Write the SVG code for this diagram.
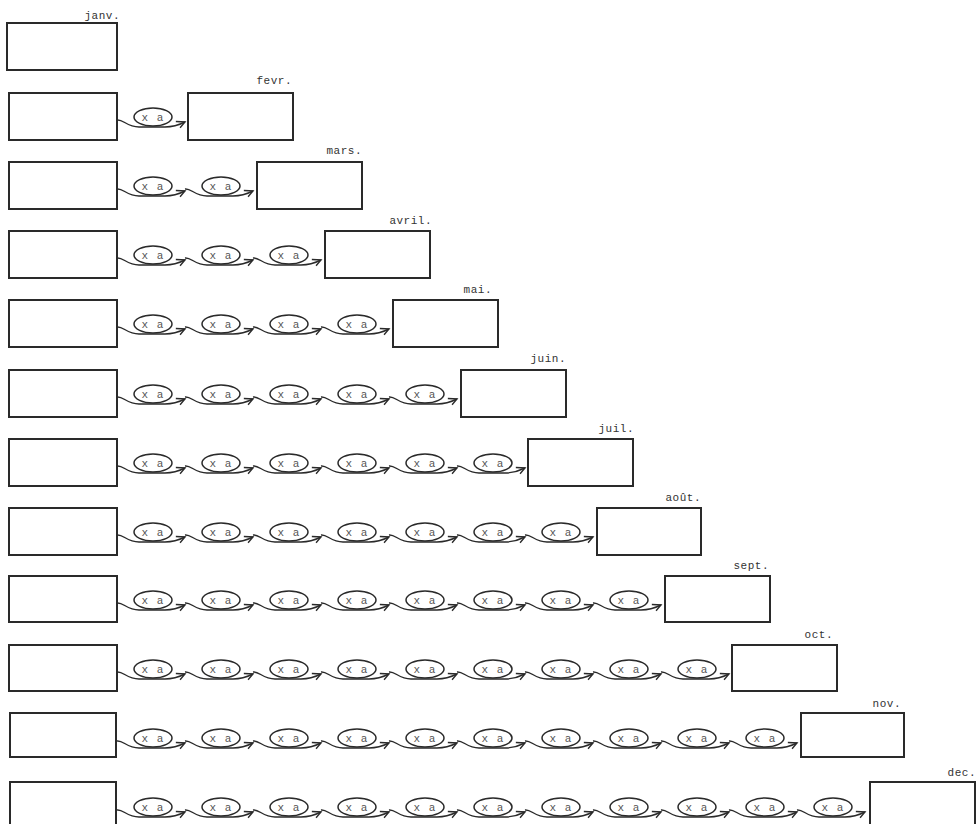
<svg xmlns="http://www.w3.org/2000/svg" width="976" height="824" viewBox="0 0 976 824">
<defs>
<marker id="ah" markerWidth="12" markerHeight="12" refX="0" refY="0" viewBox="-10 -6 12 12" orient="auto" markerUnits="userSpaceOnUse">
<path d="M-8,-4.5 L0,0 L-7,3" fill="none" stroke="#2a2a2a" stroke-width="1.4"/>
</marker>
</defs>
<style>
.box{fill:#fff;stroke:#2a2a2a;stroke-width:2}
.lbl{font-family:"Liberation Mono","DejaVu Sans Mono",monospace;font-size:11px;fill:#333;text-anchor:end;letter-spacing:0.5px}
.op ellipse{fill:#fff;stroke:#2a2a2a;stroke-width:1.5}
.op text{font-family:"Liberation Mono","DejaVu Sans Mono",monospace;font-size:11px;fill:#555;text-anchor:middle;letter-spacing:1px}
.cn path{fill:none;stroke:#2a2a2a;stroke-width:1.4;marker-end:url(#ah)}
</style>
<rect width="976" height="824" fill="#fff"/>

<g id="connectors" class="cn">
<path d="M117,120 c6,-1 10,7 22,7 h26 c8,0 12,-1 20,-5"/>
<path d="M117,189 c6,-1 10,7 22,7 h26 c8,0 12,-1 20,-5"/>
<path d="M185,189 c6,-1 10,7 22,7 h26 c8,0 12,-1 20,-5"/>
<path d="M117,258 c6,-1 10,7 22,7 h26 c8,0 12,-1 20,-5"/>
<path d="M185,258 c6,-1 10,7 22,7 h26 c8,0 12,-1 20,-5"/>
<path d="M253,258 c6,-1 10,7 22,7 h26 c8,0 12,-1 20,-5"/>
<path d="M117,327 c6,-1 10,7 22,7 h26 c8,0 12,-1 20,-5"/>
<path d="M185,327 c6,-1 10,7 22,7 h26 c8,0 12,-1 20,-5"/>
<path d="M253,327 c6,-1 10,7 22,7 h26 c8,0 12,-1 20,-5"/>
<path d="M321,327 c6,-1 10,7 22,7 h26 c8,0 12,-1 20,-5"/>
<path d="M117,397 c6,-1 10,7 22,7 h26 c8,0 12,-1 20,-5"/>
<path d="M185,397 c6,-1 10,7 22,7 h26 c8,0 12,-1 20,-5"/>
<path d="M253,397 c6,-1 10,7 22,7 h26 c8,0 12,-1 20,-5"/>
<path d="M321,397 c6,-1 10,7 22,7 h26 c8,0 12,-1 20,-5"/>
<path d="M389,397 c6,-1 10,7 22,7 h26 c8,0 12,-1 20,-5"/>
<path d="M117,466 c6,-1 10,7 22,7 h26 c8,0 12,-1 20,-5"/>
<path d="M185,466 c6,-1 10,7 22,7 h26 c8,0 12,-1 20,-5"/>
<path d="M253,466 c6,-1 10,7 22,7 h26 c8,0 12,-1 20,-5"/>
<path d="M321,466 c6,-1 10,7 22,7 h26 c8,0 12,-1 20,-5"/>
<path d="M389,466 c6,-1 10,7 22,7 h26 c8,0 12,-1 20,-5"/>
<path d="M457,466 c6,-1 10,7 22,7 h26 c8,0 12,-1 20,-5"/>
<path d="M117,535 c6,-1 10,7 22,7 h26 c8,0 12,-1 20,-5"/>
<path d="M185,535 c6,-1 10,7 22,7 h26 c8,0 12,-1 20,-5"/>
<path d="M253,535 c6,-1 10,7 22,7 h26 c8,0 12,-1 20,-5"/>
<path d="M321,535 c6,-1 10,7 22,7 h26 c8,0 12,-1 20,-5"/>
<path d="M389,535 c6,-1 10,7 22,7 h26 c8,0 12,-1 20,-5"/>
<path d="M457,535 c6,-1 10,7 22,7 h26 c8,0 12,-1 20,-5"/>
<path d="M525,535 c6,-1 10,7 22,7 h26 c8,0 12,-1 20,-5"/>
<path d="M117,603 c6,-1 10,7 22,7 h26 c8,0 12,-1 20,-5"/>
<path d="M185,603 c6,-1 10,7 22,7 h26 c8,0 12,-1 20,-5"/>
<path d="M253,603 c6,-1 10,7 22,7 h26 c8,0 12,-1 20,-5"/>
<path d="M321,603 c6,-1 10,7 22,7 h26 c8,0 12,-1 20,-5"/>
<path d="M389,603 c6,-1 10,7 22,7 h26 c8,0 12,-1 20,-5"/>
<path d="M457,603 c6,-1 10,7 22,7 h26 c8,0 12,-1 20,-5"/>
<path d="M525,603 c6,-1 10,7 22,7 h26 c8,0 12,-1 20,-5"/>
<path d="M593,603 c6,-1 10,7 22,7 h26 c8,0 12,-1 20,-5"/>
<path d="M117,672 c6,-1 10,7 22,7 h26 c8,0 12,-1 20,-5"/>
<path d="M185,672 c6,-1 10,7 22,7 h26 c8,0 12,-1 20,-5"/>
<path d="M253,672 c6,-1 10,7 22,7 h26 c8,0 12,-1 20,-5"/>
<path d="M321,672 c6,-1 10,7 22,7 h26 c8,0 12,-1 20,-5"/>
<path d="M389,672 c6,-1 10,7 22,7 h26 c8,0 12,-1 20,-5"/>
<path d="M457,672 c6,-1 10,7 22,7 h26 c8,0 12,-1 20,-5"/>
<path d="M525,672 c6,-1 10,7 22,7 h26 c8,0 12,-1 20,-5"/>
<path d="M593,672 c6,-1 10,7 22,7 h26 c8,0 12,-1 20,-5"/>
<path d="M661,672 c6,-1 10,7 22,7 h26 c8,0 12,-1 20,-5"/>
<path d="M117,741 c6,-1 10,7 22,7 h26 c8,0 12,-1 20,-5"/>
<path d="M185,741 c6,-1 10,7 22,7 h26 c8,0 12,-1 20,-5"/>
<path d="M253,741 c6,-1 10,7 22,7 h26 c8,0 12,-1 20,-5"/>
<path d="M321,741 c6,-1 10,7 22,7 h26 c8,0 12,-1 20,-5"/>
<path d="M389,741 c6,-1 10,7 22,7 h26 c8,0 12,-1 20,-5"/>
<path d="M457,741 c6,-1 10,7 22,7 h26 c8,0 12,-1 20,-5"/>
<path d="M525,741 c6,-1 10,7 22,7 h26 c8,0 12,-1 20,-5"/>
<path d="M593,741 c6,-1 10,7 22,7 h26 c8,0 12,-1 20,-5"/>
<path d="M661,741 c6,-1 10,7 22,7 h26 c8,0 12,-1 20,-5"/>
<path d="M729,741 c6,-1 10,7 22,7 h26 c8,0 12,-1 20,-5"/>
<path d="M117,810 c6,-1 10,7 22,7 h26 c8,0 12,-1 20,-5"/>
<path d="M185,810 c6,-1 10,7 22,7 h26 c8,0 12,-1 20,-5"/>
<path d="M253,810 c6,-1 10,7 22,7 h26 c8,0 12,-1 20,-5"/>
<path d="M321,810 c6,-1 10,7 22,7 h26 c8,0 12,-1 20,-5"/>
<path d="M389,810 c6,-1 10,7 22,7 h26 c8,0 12,-1 20,-5"/>
<path d="M457,810 c6,-1 10,7 22,7 h26 c8,0 12,-1 20,-5"/>
<path d="M525,810 c6,-1 10,7 22,7 h26 c8,0 12,-1 20,-5"/>
<path d="M593,810 c6,-1 10,7 22,7 h26 c8,0 12,-1 20,-5"/>
<path d="M661,810 c6,-1 10,7 22,7 h26 c8,0 12,-1 20,-5"/>
<path d="M729,810 c6,-1 10,7 22,7 h26 c8,0 12,-1 20,-5"/>
<path d="M797,810 c6,-1 10,7 22,7 h26 c8,0 12,-1 20,-5"/>
</g>

<g id="janv"><rect class="box" x="7" y="23" width="110" height="47"/><text class="lbl" x="120" y="19">janv.</text></g>

<g id="row1-start"><rect class="box" x="9" y="93" width="108" height="47"/></g>
<g id="row2-start"><rect class="box" x="9" y="162" width="108" height="47"/></g>
<g id="row3-start"><rect class="box" x="9" y="231" width="108" height="47"/></g>
<g id="row4-start"><rect class="box" x="9" y="300" width="108" height="47"/></g>
<g id="row5-start"><rect class="box" x="9" y="370" width="108" height="47"/></g>
<g id="row6-start"><rect class="box" x="9" y="439" width="108" height="47"/></g>
<g id="row7-start"><rect class="box" x="9" y="508" width="108" height="47"/></g>
<g id="row8-start"><rect class="box" x="9" y="576" width="108" height="46"/></g>
<g id="row9-start"><rect class="box" x="9" y="645" width="108" height="46"/></g>
<g id="row10-start"><rect class="box" x="10" y="713" width="106" height="44"/></g>
<g id="row11-start"><rect class="box" x="10" y="782" width="106" height="50"/></g>

<g id="fevr"><rect class="box" x="188" y="93" width="105" height="47"/><text class="lbl" x="292" y="84">fevr.</text></g>
<g id="mars"><rect class="box" x="257" y="162" width="105" height="47"/><text class="lbl" x="362" y="154">mars.</text></g>
<g id="avril"><rect class="box" x="325" y="231" width="105" height="47"/><text class="lbl" x="432" y="224">avril.</text></g>
<g id="mai"><rect class="box" x="393" y="300" width="105" height="47"/><text class="lbl" x="492" y="293">mai.</text></g>
<g id="juin"><rect class="box" x="461" y="370" width="105" height="47"/><text class="lbl" x="566" y="362">juin.</text></g>
<g id="juil"><rect class="box" x="528" y="439" width="105" height="47"/><text class="lbl" x="634" y="432">juil.</text></g>
<g id="aout"><rect class="box" x="597" y="508" width="104" height="47"/><text class="lbl" x="701" y="501">août.</text></g>
<g id="sept"><rect class="box" x="665" y="576" width="105" height="46"/><text class="lbl" x="769" y="569">sept.</text></g>
<g id="oct"><rect class="box" x="732" y="645" width="105" height="46"/><text class="lbl" x="833" y="638">oct.</text></g>
<g id="nov"><rect class="box" x="801" y="713" width="103" height="44"/><text class="lbl" x="901" y="707">nov.</text></g>
<g id="dec"><rect class="box" x="870" y="782" width="105" height="50"/><text class="lbl" x="976" y="776">dec.</text></g>

<g id="r1-1" class="op" transform="translate(153,117)"><ellipse rx="19" ry="9"/><text y="3.5">x a</text></g>

<g id="r2-1" class="op" transform="translate(153,186)"><ellipse rx="19" ry="9"/><text y="3.5">x a</text></g>
<g id="r2-2" class="op" transform="translate(221,186)"><ellipse rx="19" ry="9"/><text y="3.5">x a</text></g>

<g id="r3-1" class="op" transform="translate(153,255)"><ellipse rx="19" ry="9"/><text y="3.5">x a</text></g>
<g id="r3-2" class="op" transform="translate(221,255)"><ellipse rx="19" ry="9"/><text y="3.5">x a</text></g>
<g id="r3-3" class="op" transform="translate(289,255)"><ellipse rx="19" ry="9"/><text y="3.5">x a</text></g>

<g id="r4-1" class="op" transform="translate(153,324)"><ellipse rx="19" ry="9"/><text y="3.5">x a</text></g>
<g id="r4-2" class="op" transform="translate(221,324)"><ellipse rx="19" ry="9"/><text y="3.5">x a</text></g>
<g id="r4-3" class="op" transform="translate(289,324)"><ellipse rx="19" ry="9"/><text y="3.5">x a</text></g>
<g id="r4-4" class="op" transform="translate(357,324)"><ellipse rx="19" ry="9"/><text y="3.5">x a</text></g>

<g id="r5-1" class="op" transform="translate(153,394)"><ellipse rx="19" ry="9"/><text y="3.5">x a</text></g>
<g id="r5-2" class="op" transform="translate(221,394)"><ellipse rx="19" ry="9"/><text y="3.5">x a</text></g>
<g id="r5-3" class="op" transform="translate(289,394)"><ellipse rx="19" ry="9"/><text y="3.5">x a</text></g>
<g id="r5-4" class="op" transform="translate(357,394)"><ellipse rx="19" ry="9"/><text y="3.5">x a</text></g>
<g id="r5-5" class="op" transform="translate(425,394)"><ellipse rx="19" ry="9"/><text y="3.5">x a</text></g>

<g id="r6-1" class="op" transform="translate(153,463)"><ellipse rx="19" ry="9"/><text y="3.5">x a</text></g>
<g id="r6-2" class="op" transform="translate(221,463)"><ellipse rx="19" ry="9"/><text y="3.5">x a</text></g>
<g id="r6-3" class="op" transform="translate(289,463)"><ellipse rx="19" ry="9"/><text y="3.5">x a</text></g>
<g id="r6-4" class="op" transform="translate(357,463)"><ellipse rx="19" ry="9"/><text y="3.5">x a</text></g>
<g id="r6-5" class="op" transform="translate(425,463)"><ellipse rx="19" ry="9"/><text y="3.5">x a</text></g>
<g id="r6-6" class="op" transform="translate(493,463)"><ellipse rx="19" ry="9"/><text y="3.5">x a</text></g>

<g id="r7-1" class="op" transform="translate(153,532)"><ellipse rx="19" ry="9"/><text y="3.5">x a</text></g>
<g id="r7-2" class="op" transform="translate(221,532)"><ellipse rx="19" ry="9"/><text y="3.5">x a</text></g>
<g id="r7-3" class="op" transform="translate(289,532)"><ellipse rx="19" ry="9"/><text y="3.5">x a</text></g>
<g id="r7-4" class="op" transform="translate(357,532)"><ellipse rx="19" ry="9"/><text y="3.5">x a</text></g>
<g id="r7-5" class="op" transform="translate(425,532)"><ellipse rx="19" ry="9"/><text y="3.5">x a</text></g>
<g id="r7-6" class="op" transform="translate(493,532)"><ellipse rx="19" ry="9"/><text y="3.5">x a</text></g>
<g id="r7-7" class="op" transform="translate(561,532)"><ellipse rx="19" ry="9"/><text y="3.5">x a</text></g>

<g id="r8-1" class="op" transform="translate(153,600)"><ellipse rx="19" ry="9"/><text y="3.5">x a</text></g>
<g id="r8-2" class="op" transform="translate(221,600)"><ellipse rx="19" ry="9"/><text y="3.5">x a</text></g>
<g id="r8-3" class="op" transform="translate(289,600)"><ellipse rx="19" ry="9"/><text y="3.5">x a</text></g>
<g id="r8-4" class="op" transform="translate(357,600)"><ellipse rx="19" ry="9"/><text y="3.5">x a</text></g>
<g id="r8-5" class="op" transform="translate(425,600)"><ellipse rx="19" ry="9"/><text y="3.5">x a</text></g>
<g id="r8-6" class="op" transform="translate(493,600)"><ellipse rx="19" ry="9"/><text y="3.5">x a</text></g>
<g id="r8-7" class="op" transform="translate(561,600)"><ellipse rx="19" ry="9"/><text y="3.5">x a</text></g>
<g id="r8-8" class="op" transform="translate(629,600)"><ellipse rx="19" ry="9"/><text y="3.5">x a</text></g>

<g id="r9-1" class="op" transform="translate(153,669)"><ellipse rx="19" ry="9"/><text y="3.5">x a</text></g>
<g id="r9-2" class="op" transform="translate(221,669)"><ellipse rx="19" ry="9"/><text y="3.5">x a</text></g>
<g id="r9-3" class="op" transform="translate(289,669)"><ellipse rx="19" ry="9"/><text y="3.5">x a</text></g>
<g id="r9-4" class="op" transform="translate(357,669)"><ellipse rx="19" ry="9"/><text y="3.5">x a</text></g>
<g id="r9-5" class="op" transform="translate(425,669)"><ellipse rx="19" ry="9"/><text y="3.5">x a</text></g>
<g id="r9-6" class="op" transform="translate(493,669)"><ellipse rx="19" ry="9"/><text y="3.5">x a</text></g>
<g id="r9-7" class="op" transform="translate(561,669)"><ellipse rx="19" ry="9"/><text y="3.5">x a</text></g>
<g id="r9-8" class="op" transform="translate(629,669)"><ellipse rx="19" ry="9"/><text y="3.5">x a</text></g>
<g id="r9-9" class="op" transform="translate(697,669)"><ellipse rx="19" ry="9"/><text y="3.5">x a</text></g>

<g id="r10-1" class="op" transform="translate(153,738)"><ellipse rx="19" ry="9"/><text y="3.5">x a</text></g>
<g id="r10-2" class="op" transform="translate(221,738)"><ellipse rx="19" ry="9"/><text y="3.5">x a</text></g>
<g id="r10-3" class="op" transform="translate(289,738)"><ellipse rx="19" ry="9"/><text y="3.5">x a</text></g>
<g id="r10-4" class="op" transform="translate(357,738)"><ellipse rx="19" ry="9"/><text y="3.5">x a</text></g>
<g id="r10-5" class="op" transform="translate(425,738)"><ellipse rx="19" ry="9"/><text y="3.5">x a</text></g>
<g id="r10-6" class="op" transform="translate(493,738)"><ellipse rx="19" ry="9"/><text y="3.5">x a</text></g>
<g id="r10-7" class="op" transform="translate(561,738)"><ellipse rx="19" ry="9"/><text y="3.5">x a</text></g>
<g id="r10-8" class="op" transform="translate(629,738)"><ellipse rx="19" ry="9"/><text y="3.5">x a</text></g>
<g id="r10-9" class="op" transform="translate(697,738)"><ellipse rx="19" ry="9"/><text y="3.5">x a</text></g>
<g id="r10-10" class="op" transform="translate(765,738)"><ellipse rx="19" ry="9"/><text y="3.5">x a</text></g>

<g id="r11-1" class="op" transform="translate(153,807)"><ellipse rx="19" ry="9"/><text y="3.5">x a</text></g>
<g id="r11-2" class="op" transform="translate(221,807)"><ellipse rx="19" ry="9"/><text y="3.5">x a</text></g>
<g id="r11-3" class="op" transform="translate(289,807)"><ellipse rx="19" ry="9"/><text y="3.5">x a</text></g>
<g id="r11-4" class="op" transform="translate(357,807)"><ellipse rx="19" ry="9"/><text y="3.5">x a</text></g>
<g id="r11-5" class="op" transform="translate(425,807)"><ellipse rx="19" ry="9"/><text y="3.5">x a</text></g>
<g id="r11-6" class="op" transform="translate(493,807)"><ellipse rx="19" ry="9"/><text y="3.5">x a</text></g>
<g id="r11-7" class="op" transform="translate(561,807)"><ellipse rx="19" ry="9"/><text y="3.5">x a</text></g>
<g id="r11-8" class="op" transform="translate(629,807)"><ellipse rx="19" ry="9"/><text y="3.5">x a</text></g>
<g id="r11-9" class="op" transform="translate(697,807)"><ellipse rx="19" ry="9"/><text y="3.5">x a</text></g>
<g id="r11-10" class="op" transform="translate(765,807)"><ellipse rx="19" ry="9"/><text y="3.5">x a</text></g>
<g id="r11-11" class="op" transform="translate(833,807)"><ellipse rx="19" ry="9"/><text y="3.5">x a</text></g>
</svg>
